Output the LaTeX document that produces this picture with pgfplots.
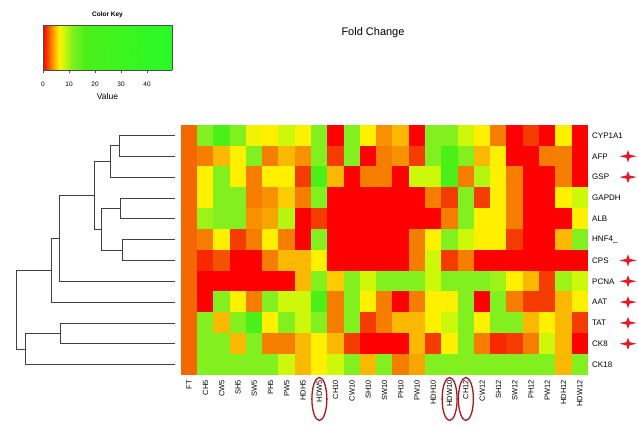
\documentclass[border=0pt]{standalone}
\usepackage{pgfplots}
\usepackage{pgfplotstable}
\pgfplotsset{compat=1.18}
\usepackage{fontspec}
\setmainfont{Liberation Sans}

\pgfplotsset{colormap={fc}{rgb255(0cm)=(255,0,0); rgb255(1.5cm)=(245,60,0); rgb255(3cm)=(245,125,0); rgb255(4.5cm)=(250,185,0); rgb255(6cm)=(255,240,0); rgb255(8cm)=(205,248,10); rgb255(11cm)=(130,240,30); rgb255(16cm)=(75,240,25); rgb255(49.6cm)=(40,250,40)}}

\pgfdeclareplotmark{cell}{\pgfpathrectangle{\pgfpoint{-8.35pt}{-10.6pt}}{\pgfpoint{16.7pt}{21.2pt}}\pgfusepathqfill}
\pgfdeclareplotmark{star4}{\pgfpathmoveto{\pgfpoint{8.5pt}{0pt}}\pgfpathlineto{\pgfpoint{1.6pt}{1.6pt}}\pgfpathlineto{\pgfpoint{0pt}{6pt}}\pgfpathlineto{\pgfpoint{-1.6pt}{1.6pt}}\pgfpathlineto{\pgfpoint{-8.5pt}{0pt}}\pgfpathlineto{\pgfpoint{-1.6pt}{-1.6pt}}\pgfpathlineto{\pgfpoint{0pt}{-6pt}}\pgfpathlineto{\pgfpoint{1.6pt}{-1.6pt}}\pgfpathclose\pgfusepathqfill}
\pgfdeclareplotmark{oval}{\pgfpathellipse{\pgfpointorigin}{\pgfpoint{7.5pt}{0pt}}{\pgfpoint{0pt}{21.5pt}}\pgfusepathqstroke}

\pgfplotsset{
  cellrow/.style={scatter, only marks, mark=cell, scatter src=explicit},
  dend/.style={draw=black!75, line width=0.7pt, mark=none}
}

% columns: c = sample index; r0 = CYP1A1 (top row) ... r11 = CK18 (bottom row)
\pgfplotstableread{
c  r0  r1  r2  r3  r4  r5  r6  r7  r8  r9  r10 r11
0  2.5 2.5 2.5 2.5 2.5 2.5 2.5 2.5 2.5 2.5 2.5 2.5
1  11  3   6   6   10  3   1   0   0   11  11  11
2  16  4.5 11  11  11  6   2   0   11  4.5 11  11
3  11  6   6   11  11  1.5 0   0   6   11  4.5 11
4  6.5 11  3   3   3.5 3   0   0   3   16  11  11
5  6   3   6   3.5 4   6   3   0   11  6   3   11
6  8   4.5 6   5   9   3   4.5 0   8   11  3   8
7  6   3.5 1.5 3   0   0   4.5 4.5 8   8   4.5 4.5
8  11  11  16  11  1.5 11  6   11  16  11  6   6
9  0   1.5 4.5 0   0   0   0   5   3   3   4.5 8
10 11  11  0   0   0   0   0   11  11  11  1.5 11
11 6   0   3   0   0   0   0   8   6   1.5 0   4.5
12 3.5 3   3   0   0   0   0   11  3   3   0   11
13 4.5 3.5 0   0   0   0   0   11  0   4.5 0   3
14 0   1.5 8   0   0   3   3   11  3   4.5 4.5 4
15 11  11  8   3   0   6   8   8   6   6   1.5 11
16 11  16  16  1.5 3   11  1.5 11  6   8   6   11
17 8   11  3   11  11  8   3   11  11  11  11  11
18 6   4.5 9   1.5 6   6   0   11  0   6   3   11
19 3   6   6   6   6   6   0   10  11  11  1   11
20 0   0   3   3   3   1.5 0   6   3   11  1.5 11
21 1.5 0   0   0   0   0   0   4.5 1.5 4.5 3   11
22 0   3   0   0   0   0   0   1.5 1.5 6   8   11
23 6   3   3   6   0   4.5 0   10  4.5 4.5 4.5 4.5
24 0   0   0   8   6   11  0   8   6   1.5 0   11
}\hm

\begin{document}
\begin{tikzpicture}
\path[use as bounding box] (0,0) rectangle (638pt,424pt);

% title
\node[font=\fontsize{11}{13}\selectfont] at (373pt,391pt) {Fold Change};

% colour key
\begin{axis}[at={(43pt,354pt)}, anchor=south west, scale only axis,
  width=129pt, height=45pt, xmin=0, xmax=49.6, ymin=0, ymax=1,
  view={0}{90}, colormap name=fc, point meta min=0, point meta max=49.6,
  ytick=\empty, xtick={0,10,20,30,40}, xticklabels={0,10,20,30,40},
  xtick pos=left, tick align=outside, major tick length=3pt,
  axis line style={draw=black!70, line width=0.6pt},
  tick style={black!70},
  xticklabel style={font=\fontsize{6.5}{7}\selectfont, inner sep=1pt, yshift=-8pt},
  xlabel={Value}, xlabel style={font=\fontsize{8.5}{9}\selectfont, inner sep=0pt, yshift=-5pt},
  title={\textbf{Color Key}}, title style={font=\fontsize{6.5}{7}\selectfont, inner sep=2pt, yshift=-1pt}]
\addplot3[surf, shader=interp, point meta=x] coordinates {
(0,0,0) (1.5,0,0) (3,0,0) (4.5,0,0) (6,0,0) (8,0,0) (11,0,0) (16,0,0) (49.6,0,0)

(0,1,0) (1.5,1,0) (3,1,0) (4.5,1,0) (6,1,0) (8,1,0) (11,1,0) (16,1,0) (49.6,1,0)
};
\end{axis}

% dendrogram
\begin{axis}[at={(0pt,49pt)}, anchor=south west, scale only axis,
  width=181pt, height=250pt, xmin=0, xmax=181, ymin=-0.5, ymax=11.5,
  hide axis, clip=false]
\addplot[dend] coordinates {(175,11) (119,11) (119,10) (175,10)};
\addplot[dend] coordinates {(119,10.5) (110,10.5) (110,9) (175,9)};
\addplot[dend] coordinates {(175,8) (120,8) (120,7) (175,7)};
\addplot[dend] coordinates {(175,6) (122,6) (122,5) (175,5)};
\addplot[dend] coordinates {(120,7.5) (101.7,7.5) (101.7,5.5) (122,5.5)};
\addplot[dend] coordinates {(110,9.75) (94.3,9.75) (94.3,6.5) (101.7,6.5)};
\addplot[dend] coordinates {(94.3,8.125) (59,8.125) (59,4) (175,4)};
\addplot[dend] coordinates {(59,6.06) (51.7,6.06) (51.7,3) (175,3)};
\addplot[dend] coordinates {(175,2) (60,2) (60,1) (175,1)};
\addplot[dend] coordinates {(60,1.5) (25.7,1.5) (25.7,0) (175,0)};
\addplot[dend] coordinates {(51.7,4.53) (16,4.53) (16,0.75) (25.7,0.75)};
\end{axis}

% heatmap
\begin{axis}[at={(181pt,49pt)}, anchor=south west, scale only axis,
  width=407pt, height=250pt, xmin=-0.5, xmax=24.5, ymin=-0.5, ymax=11.5,
  axis line style={draw=none}, major tick length=0pt, clip=false,
  colormap name=fc, point meta min=0, point meta max=49.6,
  xtick={0,...,24},
  xticklabels={FT,CH5,CW5,SH5,SW5,PH5,PW5,HDH5,HDW5,CH10,CW10,SH10,SW10,PH10,PW10,HDH10,HDW10,CH12,CW12,SH12,SW12,PH12,PW12,HDH12,HDW12},
  xticklabel style={rotate=90, anchor=east, font=\fontsize{7.5}{8}\selectfont, inner sep=1pt, xshift=-4pt},
  ytick={0,...,11},
  yticklabels={CK18,CK8,TAT,AAT,PCNA,CPS,HNF4\_,ALB,GAPDH,GSP,AFP,CYP1A1},
  yticklabel pos=right,
  yticklabel style={anchor=west, font=\fontsize{8}{9}\selectfont, inner sep=1pt, xshift=3pt}]
\addplot[cellrow] table[x=c, y expr=11, meta=r0] {\hm};
\addplot[cellrow] table[x=c, y expr=10, meta=r1] {\hm};
\addplot[cellrow] table[x=c, y expr=9, meta=r2] {\hm};
\addplot[cellrow] table[x=c, y expr=8, meta=r3] {\hm};
\addplot[cellrow] table[x=c, y expr=7, meta=r4] {\hm};
\addplot[cellrow] table[x=c, y expr=6, meta=r5] {\hm};
\addplot[cellrow] table[x=c, y expr=5, meta=r6] {\hm};
\addplot[cellrow] table[x=c, y expr=4, meta=r7] {\hm};
\addplot[cellrow] table[x=c, y expr=3, meta=r8] {\hm};
\addplot[cellrow] table[x=c, y expr=2, meta=r9] {\hm};
\addplot[cellrow] table[x=c, y expr=1, meta=r10] {\hm};
\addplot[cellrow] table[x=c, y expr=0, meta=r11] {\hm};
\addplot[only marks, mark=star4, color={rgb,255:red,230;green,25;blue,35}]
  coordinates {(26.96,10) (26.96,9) (26.96,5) (26.96,4) (26.96,3) (26.96,2) (26.96,1)};
\addplot[only marks, mark=oval, color={rgb,255:red,170;green,20;blue,35}, line width=1.3pt]
  coordinates {(8,-1.65) (16,-1.65) (17,-1.65)};
\end{axis}
\end{tikzpicture}
\end{document}
